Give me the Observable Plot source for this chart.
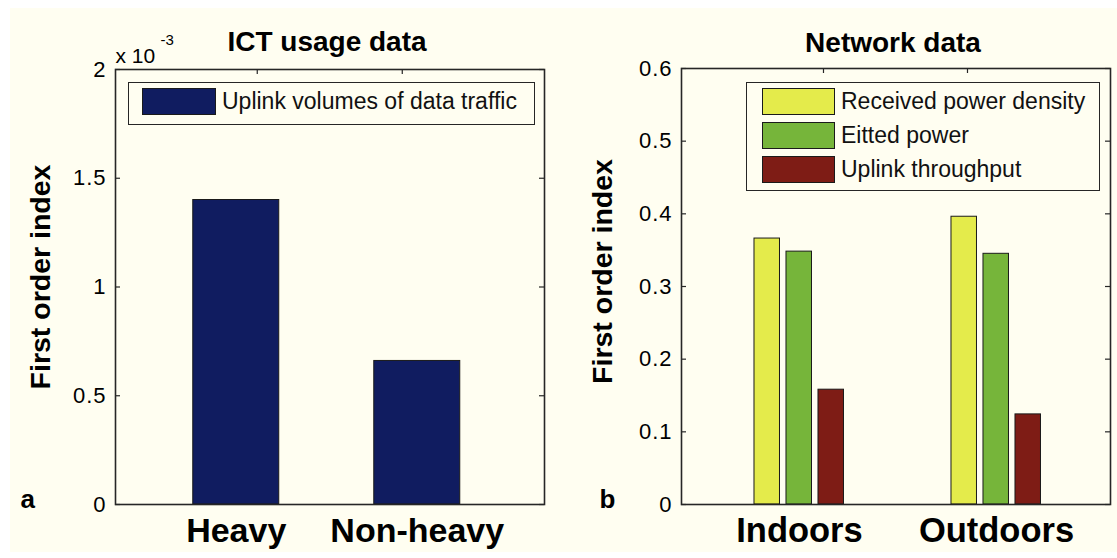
<!DOCTYPE html>
<html>
<head>
<meta charset="utf-8">
<script src="https://cdn.jsdelivr.net/npm/d3@7"></script>
<script src="https://cdn.jsdelivr.net/npm/@observablehq/plot@0.6"></script>
<style>
  html, body { margin: 0; padding: 0; background: #ffffff; }
  #fig { position: relative; width: 1117px; height: 558px; background: #ffffff; overflow: hidden;
         font-family: "Liberation Sans", Arial, Helvetica, sans-serif; color: #000; }
  #bg { position: absolute; left: 10px; top: 8px; width: 1107px; height: 544px; background: #FFFEF1; }
  .panel { position: absolute; top: 0; }
  .panel g[aria-label="y-axis tick label"] text { letter-spacing: 1px; }
  .legend { position: absolute; box-sizing: border-box; border: 1.5px solid #262626; background: #FFFEF1; }
  .legend .row { position: absolute; left: 0; display: flex; align-items: center; }
  .legend .sw { box-sizing: border-box; border: 1.5px solid #1a1a1a; display: inline-block; }
  .legend .lb { font-size: 23px; white-space: nowrap; color: #111; }
</style>
</head>
<body>
<div id="fig">
  <div id="bg"></div>
</div>
<script>
// ---------- Data: panel a (ICT usage data), values in units of 10^-3 ----------
const ictCategories = ["Heavy", "Non-heavy"];
const ictValues = [1.40, 0.66];
const ictSeries = ["Uplink volumes of data traffic"];
const ictColors = ["#101C60"];
const ictTicks = [0, 0.5, 1, 1.5, 2];
const ictTickLabels = ["0", "0.5", "1", "1.5", "2"];

// ---------- Data: panel b (Network data) ----------
const netGroups = ["Indoors", "Outdoors"];
const netSeries = ["Received power density", "Eitted power", "Uplink throughput"];
const netColors = ["#E4EB4B", "#76B53A", "#7E1C15"];
const netIndoors = [0.366, 0.348, 0.158];
const netOutdoors = [0.396, 0.345, 0.124];
const netTicks = [0, 0.1, 0.2, 0.3, 0.4, 0.5, 0.6];
const netTickLabels = ["0", "0.1", "0.2", "0.3", "0.4", "0.5", "0.6"];

const FONT = "Liberation Sans, Arial, Helvetica, sans-serif";
const AX = "#262626";

const ictData = ictCategories.map((c, i) => ({cat: c, value: ictValues[i]}));
const netByGroup = [netIndoors, netOutdoors];
const netData = netGroups.flatMap((g, gi) => netSeries.map((s, si) => ({group: g, series: s, value: netByGroup[gi][si]})));

// ---------- Panel a ----------
const aW = 560, H = 558;
const aM = {left: 115, right: 16, top: 69, bottom: 54};
const aFW = aW - aM.left - aM.right, aFH = H - aM.top - aM.bottom;

const plotA = Plot.plot({
  width: aW, height: H,
  marginLeft: aM.left, marginRight: aM.right, marginTop: aM.top, marginBottom: aM.bottom,
  style: {background: "transparent", fontFamily: FONT, color: "#000", overflow: "visible"},
  x: {domain: ictCategories, paddingInner: 0.525, paddingOuter: 0.4475, align: 0.48, round: false, label: null},
  y: {domain: [0, 2], label: null},
  marks: [
    Plot.barY(ictData, {x: "cat", y: "value", fill: ictColors[0], stroke: "#1a1a1a", strokeWidth: 1}),
    Plot.ruleY(ictTicks, {insetRight: aFW - 5, stroke: AX, strokeWidth: 1.2}),
    Plot.ruleY(ictTicks, {insetLeft: aFW - 5, stroke: AX, strokeWidth: 1.2}),
    Plot.ruleX([ictCategories[0]], {x: d => d, insetBottom: aFH - 5, dx: 21, stroke: AX, strokeWidth: 1.2}),
    Plot.ruleX([ictCategories[1]], {x: d => d, insetBottom: aFH - 5, dx: -15, stroke: AX, strokeWidth: 1.2}),
    Plot.axisY({ticks: ictTicks, tickFormat: d => ictTickLabels[ictTicks.indexOf(d)], tickSize: 0, tickPadding: 9, fontSize: 22, label: null}),
    Plot.axisX({tickSize: 0, tickPadding: 13, fontSize: 34, fontWeight: "bold", label: null}),
    Plot.frame({stroke: AX, strokeWidth: 1.6}),
    Plot.text(["ICT usage data"], {text: d => d, frameAnchor: "top", lineAnchor: "bottom", dy: -19, dx: -3, fontSize: 28, fontWeight: "bold"}),
    Plot.text(["First order index"], {text: d => d, frameAnchor: "left", rotate: -90, dx: -75, dy: -10, fontSize: 28.5, fontWeight: "bold", textAnchor: "middle"}),
    Plot.text(["x 10"], {text: d => d, frameAnchor: "top-left", textAnchor: "start", lineAnchor: "bottom", dy: -7, fontSize: 21}),
    Plot.text(["-3"], {text: d => d, frameAnchor: "top-left", textAnchor: "start", lineAnchor: "bottom", dx: 45, dy: -25, fontSize: 15}),
    Plot.text(["a"], {text: d => d, frameAnchor: "bottom-left", textAnchor: "start", lineAnchor: "bottom", dx: -95, dy: 3, fontSize: 26, fontWeight: "bold"})
  ]
});
plotA.classList.add("panel");
plotA.style.left = "0px";
document.getElementById("fig").appendChild(plotA);

// ---------- Panel b ----------
const bW = 557;
const bM = {left: 121, right: 7, top: 68, bottom: 54};
const bFW = bW - bM.left - bM.right, bFH = H - bM.top - bM.bottom;
const bPadIn = 0.5431, bPadOut = 0.3604;
const bBand = bFW / (netGroups.length - bPadIn + 2 * bPadOut) * (1 - bPadIn);
const barW = 25.5, barStep = 32;

const seriesBars = netSeries.map((s, i) => Plot.barY(netData.filter(d => d.series === s), {
  x: "group", y: "value", fill: netColors[i], stroke: "#1a1a1a", strokeWidth: 1,
  insetLeft: i * barStep, insetRight: bBand - i * barStep - barW
}));

const plotB = Plot.plot({
  width: bW, height: H,
  marginLeft: bM.left, marginRight: bM.right, marginTop: bM.top, marginBottom: bM.bottom,
  style: {background: "transparent", fontFamily: FONT, color: "#000", overflow: "visible"},
  x: {domain: netGroups, paddingInner: bPadIn, paddingOuter: bPadOut, align: 0.514, round: false, label: null},
  y: {domain: [0, 0.6], label: null},
  marks: [
    ...seriesBars,
    Plot.ruleY(netTicks, {insetRight: bFW - 5, stroke: AX, strokeWidth: 1.2}),
    Plot.ruleY(netTicks, {insetLeft: bFW - 5, stroke: AX, strokeWidth: 1.2}),
    Plot.ruleX([netGroups[0]], {x: d => d, insetBottom: bFH - 5, dx: 24, stroke: AX, strokeWidth: 1.2}),
    Plot.ruleX([netGroups[1]], {x: d => d, insetBottom: bFH - 5, dx: -29, stroke: AX, strokeWidth: 1.2}),
    Plot.axisY({ticks: netTicks, tickFormat: d => netTickLabels[netTicks.indexOf(d)], tickSize: 0, tickPadding: 9, fontSize: 22, label: null}),
    Plot.axisX({tickSize: 0, tickPadding: 13, fontSize: 34.5, fontWeight: "bold", label: null}),
    Plot.frame({stroke: AX, strokeWidth: 1.6}),
    Plot.text(["Network data"], {text: d => d, frameAnchor: "top", lineAnchor: "bottom", dy: -17, dx: -3, fontSize: 28, fontWeight: "bold"}),
    Plot.text(["First order index"], {text: d => d, frameAnchor: "left", rotate: -90, dx: -79, dy: -15, fontSize: 28.5, fontWeight: "bold", textAnchor: "middle"}),
    Plot.text(["b"], {text: d => d, frameAnchor: "bottom-left", textAnchor: "start", lineAnchor: "bottom", dx: -82, dy: 3, fontSize: 26, fontWeight: "bold"})
  ]
});
plotB.classList.add("panel");
plotB.style.left = "560px";
document.getElementById("fig").appendChild(plotB);

// ---------- Legends (HTML overlays built from the series/color arrays) ----------
function makeLegend(series, colors, box, sw, textX, rowTop, rowStep) {
  const lg = document.createElement("div");
  lg.className = "legend";
  Object.assign(lg.style, {left: box.x + "px", top: box.y + "px", width: box.w + "px", height: box.h + "px"});
  series.forEach((s, i) => {
    const row = document.createElement("div");
    row.className = "row";
    row.style.top = (rowTop + i * rowStep) + "px";
    row.style.height = sw.h + "px";
    const swatch = document.createElement("span");
    swatch.className = "sw";
    Object.assign(swatch.style, {width: sw.w + "px", height: sw.h + "px", marginLeft: sw.x + "px", background: colors[i]});
    const lab = document.createElement("span");
    lab.className = "lb";
    lab.style.marginLeft = (textX - sw.x - sw.w) + "px";
    lab.textContent = s;
    row.appendChild(swatch);
    row.appendChild(lab);
    lg.appendChild(row);
  });
  document.getElementById("fig").appendChild(lg);
}
makeLegend(ictSeries, ictColors, {x: 128, y: 82, w: 407, h: 43}, {x: 13, w: 74, h: 27}, 93, 5, 34);
makeLegend(netSeries, netColors, {x: 746, y: 82, w: 354, h: 109}, {x: 15, w: 73, h: 27}, 94, 5, 34);
</script>
</body>
</html>
